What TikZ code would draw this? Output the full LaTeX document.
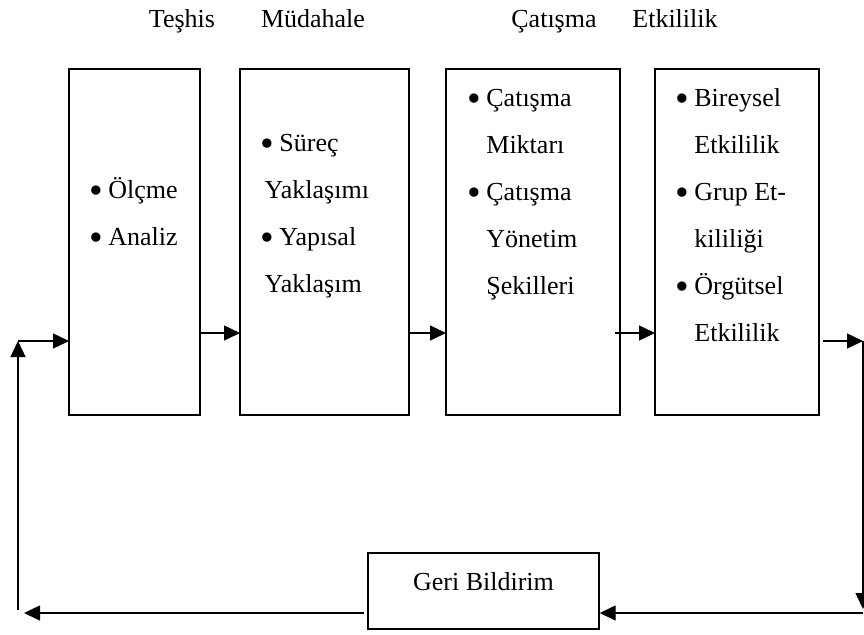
\documentclass[tikz,border=0pt]{standalone}
\usepackage{fontspec}
\setmainfont{Liberation Serif}
\usetikzlibrary{arrows.meta,calc}
\newcommand{\bul}{\makebox[9.5pt][l]{\raisebox{-0.21em}{\scalebox{1.5}{•}}}}
\newcommand{\ind}{\hphantom{\bul}}
\tikzset{
  box/.style={draw, line width=0.7pt, anchor=north west, inner sep=0pt, outer sep=0pt, minimum height=173pt},
  txt/.style={anchor=base west, align=left, inner sep=0pt, font=\fontsize{13}{23.5}\selectfont},
  head/.style={anchor=base, inner sep=0pt, font=\fontsize{13}{15}\selectfont},
  arr/.style={-{Triangle[length=8pt,width=7.5pt]}, line width=0.7pt}
}
\begin{document}
\begin{tikzpicture}[x=0.5pt, y=-0.5pt, line join=miter]
\useasboundingbox (0,0) rectangle (864,634);
\foreach \x/\t [count=\i] in {182/Teşhis, 313/Müdahale, 554/Çatışma, 675/Etkililik} \node[head] (h\i) at (\x,27) {\t};
\foreach \n/\x/\w in {1/69/65.5pt, 2/240/84.5pt, 3/446/87pt, 4/655/82pt} \node[box, minimum width=\w] (box\n) at (\x,69) {};
% anchors sit on the last line of each text
\node[txt] (t1) at ([shift={(20,176)}]box1.north west) {\bul Ölçme\\ \bul Analiz};
\node[txt] (t2) at ([shift={(20,223)}]box2.north west) {\bul Süreç\\ \,Yaklaşımı\\ \bul Yapısal\\ \,Yaklaşım};
\node[txt] (t3) at ([shift={(21,225)}]box3.north west) {\bul Çatışma\\ \ind Miktarı\\ \bul Çatışma\\ \ind Yönetim\\ \ind Şekilleri};
\node[txt] (t4) at ([shift={(20,272)}]box4.north west) {\bul Bireysel\\ \ind Etkililik\\ \bul Grup Et-\\ \ind kililiği\\ \bul Örgütsel\\ \ind Etkililik};
\node[draw, line width=0.7pt, minimum width=115.5pt, minimum height=38pt, text height=9pt, text depth=10pt, inner sep=0pt, font=\fontsize{13}{15}\selectfont] (fb) at (483.5,591) {Geri Bildirim};
% feedback loop
\path (18,610) coordinate (fbL) (18,341) coordinate (inL) (863,341) coordinate (outR) (863,609) coordinate (downR) (863,613) coordinate (fbR) (24,613) coordinate (endL);
\draw[arr] (fbL) -- (inL);
\draw[arr] (inL) -- (inL -| box1.west);
\draw[arr] (box1.east |- 0,333) -- (box2.west |- 0,333);
\draw[arr] (box2.east |- 0,333) -- (box3.west |- 0,333);
\draw[arr] ($(box3.east |- 0,333)+(-5,0)$) -- (box4.west |- 0,333);
\draw[arr] ($(box4.east |- outR)+(4,0)$) -- (outR);
\draw[arr] (outR) -- (downR);
\draw[arr] (fbR) -- (fb.east |- fbR);
\draw[arr] ($(fb.west |- fbR)+(-3,0)$) -- (endL);
\end{tikzpicture}
\end{document}
